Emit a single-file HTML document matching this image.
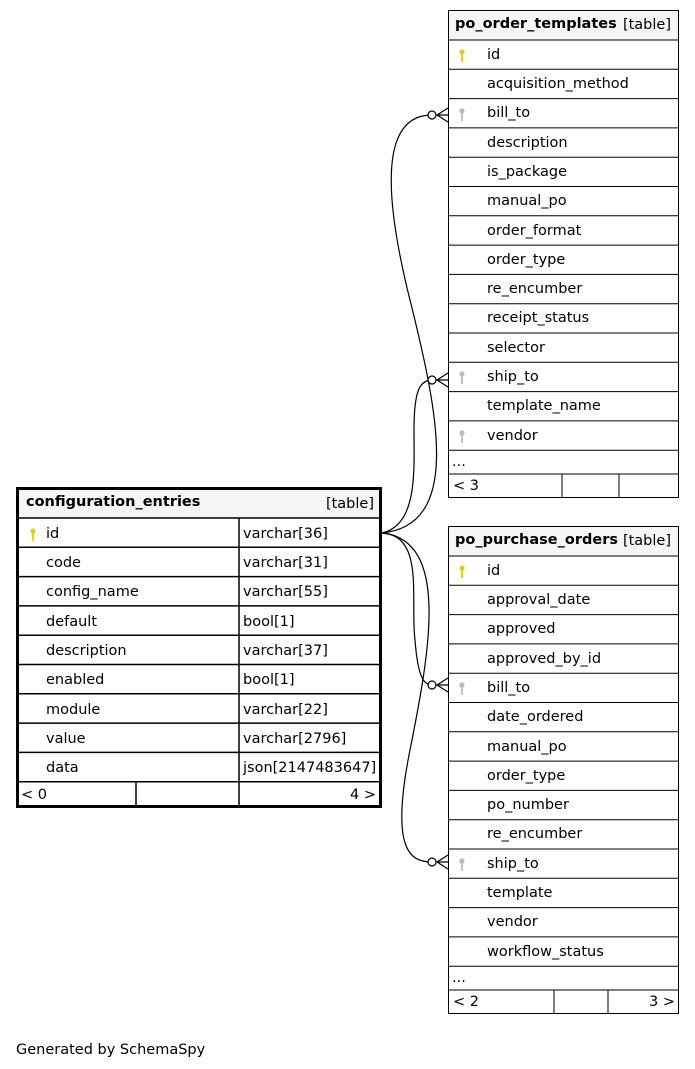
<!DOCTYPE html>
<html><head><meta charset="utf-8"><style>
html,body{margin:0;padding:0;background:#fff;}
svg{display:block;font-family:"DejaVu Sans","Liberation Sans",sans-serif;font-size:14.5px;}
</style></head><body>
<svg width="695" height="1069" viewBox="0 0 695 1069">
<defs>
<g id="pk"><circle cx="0" cy="-3" r="2.6" fill="#e0d000"/><rect x="-0.9" y="-1" width="1.8" height="8" fill="#e0d000"/></g>
<g id="fk"><circle cx="0" cy="-3" r="2.6" fill="#bbb"/><rect x="-0.9" y="-1" width="1.8" height="8" fill="#bbb"/></g>
</defs>

<g fill="none" stroke="#000" stroke-width="1.2">
<path d="M382,533 C460,525 440,420 410,300 C380,180 385,115 432,115"/>
<path d="M382,533 C418,525 414,470 414,430 C414,390 420,380 432,380"/>
<path d="M382,533 C425,535 410,600 415,640 C418,680 425,685 432,685"/>
<path d="M382,533 C450,540 430,650 410,750 C390,850 410,862 432,862"/>
</g>
<g fill="#fff" stroke="#000" stroke-width="1.2">
<circle cx="432" cy="115" r="4"/><circle cx="432" cy="380" r="4"/>
<circle cx="432" cy="685" r="4"/><circle cx="432" cy="862" r="4"/>
</g>
<g fill="#000" stroke="#000" stroke-width="1.2">
<path d="M448,108 L437,115 L448,122 M437,115 L448,115" fill="none"/>
<path d="M448,373 L437,380 L448,387 M437,380 L448,380" fill="none"/>
<path d="M448,678 L437,685 L448,692 M437,685 L448,685" fill="none"/>
<path d="M448,855 L437,862 L448,869 M437,862 L448,862" fill="none"/>
</g>

<rect x="17.5" y="488.5" width="363" height="318" fill="#fff" stroke="#000" stroke-width="3"/>
<rect x="19" y="490" width="360" height="28" fill="#f5f5f5"/>
<g stroke="#000" stroke-width="1.5">
<line x1="17" y1="518" x2="381" y2="518"/>
<line x1="17" y1="547.3" x2="381" y2="547.3"/>
<line x1="17" y1="576.6" x2="381" y2="576.6"/>
<line x1="17" y1="605.9" x2="381" y2="605.9"/>
<line x1="17" y1="635.2" x2="381" y2="635.2"/>
<line x1="17" y1="664.5" x2="381" y2="664.5"/>
<line x1="17" y1="693.8" x2="381" y2="693.8"/>
<line x1="17" y1="723.1" x2="381" y2="723.1"/>
<line x1="17" y1="752.4" x2="381" y2="752.4"/>
<line x1="17" y1="781.7" x2="381" y2="781.7"/>
<line x1="239" y1="518" x2="239" y2="806"/>
<line x1="136" y1="782" x2="136" y2="806"/>
</g>
<text x="26" y="506" font-weight="bold">configuration_entries</text>
<text x="374" y="508" text-anchor="end">[table]</text>
<use href="#pk" x="33" y="534"/>
<g>
<text x="46" y="538">id</text><text x="243" y="538">varchar[36]</text>
<text x="46" y="567">code</text><text x="243" y="567">varchar[31]</text>
<text x="46" y="596">config_name</text><text x="243" y="596">varchar[55]</text>
<text x="46" y="626">default</text><text x="243" y="626">bool[1]</text>
<text x="46" y="655">description</text><text x="243" y="655">varchar[37]</text>
<text x="46" y="684">enabled</text><text x="243" y="684">bool[1]</text>
<text x="46" y="714">module</text><text x="243" y="714">varchar[22]</text>
<text x="46" y="743">value</text><text x="243" y="743">varchar[2796]</text>
<text x="46" y="772">data</text><text x="243" y="772">json[2147483647]</text>
<text x="21" y="799">&lt; 0</text><text x="376" y="799" text-anchor="end">4 &gt;</text>
</g>

<rect x="448.5" y="10.5" width="230" height="487" fill="#fff" stroke="#000"/>
<rect x="449" y="11" width="229" height="29" fill="#f5f5f5"/>
<g stroke="#000">
<line x1="448" y1="40" x2="679" y2="40"/>
<line x1="448" y1="69.3" x2="679" y2="69.3"/>
<line x1="448" y1="98.6" x2="679" y2="98.6"/>
<line x1="448" y1="127.9" x2="679" y2="127.9"/>
<line x1="448" y1="157.2" x2="679" y2="157.2"/>
<line x1="448" y1="186.5" x2="679" y2="186.5"/>
<line x1="448" y1="215.8" x2="679" y2="215.8"/>
<line x1="448" y1="245.1" x2="679" y2="245.1"/>
<line x1="448" y1="274.4" x2="679" y2="274.4"/>
<line x1="448" y1="303.7" x2="679" y2="303.7"/>
<line x1="448" y1="333" x2="679" y2="333"/>
<line x1="448" y1="362.3" x2="679" y2="362.3"/>
<line x1="448" y1="391.6" x2="679" y2="391.6"/>
<line x1="448" y1="420.9" x2="679" y2="420.9"/>
<line x1="448" y1="450.2" x2="679" y2="450.2"/>
<line x1="448" y1="474" x2="679" y2="474"/>
<line x1="562" y1="474" x2="562" y2="498"/>
<line x1="619" y1="474" x2="619" y2="498"/>
</g>
<text x="455" y="28" font-weight="bold">po_order_templates</text>
<text x="671" y="29" text-anchor="end">[table]</text>
<use href="#pk" x="462" y="55"/>
<use href="#fk" x="462" y="114"/>
<use href="#fk" x="462" y="377"/>
<use href="#fk" x="462" y="436"/>
<text x="487" y="59">id</text>
<text x="487" y="88">acquisition_method</text>
<text x="487" y="117">bill_to</text>
<text x="487" y="147">description</text>
<text x="487" y="176">is_package</text>
<text x="487" y="205">manual_po</text>
<text x="487" y="235">order_format</text>
<text x="487" y="264">order_type</text>
<text x="487" y="293">re_encumber</text>
<text x="487" y="322">receipt_status</text>
<text x="487" y="352">selector</text>
<text x="487" y="381">ship_to</text>
<text x="487" y="410">template_name</text>
<text x="487" y="440">vendor</text>
<text x="452" y="466">...</text>
<text x="453" y="490">&lt; 3</text>

<rect x="448.5" y="526.5" width="230" height="487" fill="#fff" stroke="#000"/>
<rect x="449" y="527" width="229" height="29" fill="#f5f5f5"/>
<g stroke="#000">
<line x1="448" y1="556" x2="679" y2="556"/>
<line x1="448" y1="585.3" x2="679" y2="585.3"/>
<line x1="448" y1="614.6" x2="679" y2="614.6"/>
<line x1="448" y1="643.9" x2="679" y2="643.9"/>
<line x1="448" y1="673.2" x2="679" y2="673.2"/>
<line x1="448" y1="702.5" x2="679" y2="702.5"/>
<line x1="448" y1="731.8" x2="679" y2="731.8"/>
<line x1="448" y1="761.1" x2="679" y2="761.1"/>
<line x1="448" y1="790.4" x2="679" y2="790.4"/>
<line x1="448" y1="819.7" x2="679" y2="819.7"/>
<line x1="448" y1="849" x2="679" y2="849"/>
<line x1="448" y1="878.3" x2="679" y2="878.3"/>
<line x1="448" y1="907.6" x2="679" y2="907.6"/>
<line x1="448" y1="936.9" x2="679" y2="936.9"/>
<line x1="448" y1="966.2" x2="679" y2="966.2"/>
<line x1="448" y1="990" x2="679" y2="990"/>
<line x1="554" y1="990" x2="554" y2="1014"/>
<line x1="608" y1="990" x2="608" y2="1014"/>
</g>
<text x="455" y="544" font-weight="bold">po_purchase_orders</text>
<text x="671" y="545" text-anchor="end">[table]</text>
<use href="#pk" x="462" y="571"/>
<use href="#fk" x="462" y="688"/>
<use href="#fk" x="462" y="864"/>
<text x="487" y="575">id</text>
<text x="487" y="604">approval_date</text>
<text x="487" y="633">approved</text>
<text x="487" y="663">approved_by_id</text>
<text x="487" y="692">bill_to</text>
<text x="487" y="721">date_ordered</text>
<text x="487" y="751">manual_po</text>
<text x="487" y="780">order_type</text>
<text x="487" y="809">po_number</text>
<text x="487" y="838">re_encumber</text>
<text x="487" y="868">ship_to</text>
<text x="487" y="897">template</text>
<text x="487" y="926">vendor</text>
<text x="487" y="956">workflow_status</text>
<text x="452" y="982">...</text>
<text x="453" y="1006">&lt; 2</text>
<text x="675" y="1006" text-anchor="end">3 &gt;</text>

<text x="16" y="1054">Generated by SchemaSpy</text>
</svg>
</body></html>
